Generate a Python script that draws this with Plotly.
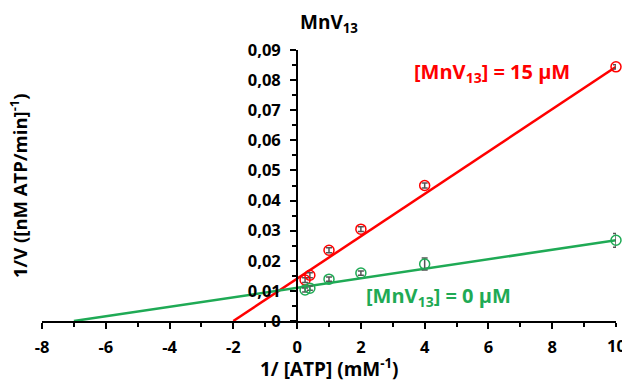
import plotly.graph_objects as go

# Data
atp_inv = [0.25, 0.4, 1, 2, 4, 10]
v_inv_15uM = [0.0136, 0.0152, 0.0235, 0.0305, 0.0450, 0.0844]
err_15uM = [0.0008, 0.0008, 0.0008, 0.0008, 0.0008, 0.0007]
v_inv_0uM = [0.0103, 0.0109, 0.0139, 0.0159, 0.0189, 0.0268]
err_0uM = [0.0007, 0.0007, 0.0007, 0.0007, 0.0020, 0.0023]

fit_x_15uM = [-2, 10]
fit_y_15uM = [0.0, 0.0844]
fit_x_0uM = [-7, 10]
fit_y_0uM = [0.0, 0.0268]

x_tickvals = [-8, -6, -4, -2, 0, 2, 4, 6, 8, 10]
x_ticktext = ["-8", "-6", "-4", "-2", "0", "2", "4", "6", "8", "10"]
y_tickvals = [0, 0.01, 0.02, 0.03, 0.04, 0.05, 0.06, 0.07, 0.08, 0.09]
y_ticktext = ["0", "0,01", "0,02", "0,03", "0,04", "0,05", "0,06", "0,07", "0,08", "0,09"]

RED = "#ff0000"
GREEN = "#1faa55"
ERR = "#555555"
FONT = "Open Sans"
TICKSIZE = 16.5

fig = go.Figure()

fig.add_trace(go.Scatter(x=fit_x_15uM, y=fit_y_15uM, mode="lines",
                         line=dict(color=RED, width=2.5), showlegend=False, hoverinfo="skip"))
fig.add_trace(go.Scatter(x=fit_x_0uM, y=fit_y_0uM, mode="lines",
                         line=dict(color=GREEN, width=2.5), showlegend=False, hoverinfo="skip"))

fig.add_trace(go.Scatter(x=atp_inv, y=v_inv_15uM, mode="markers",
                         marker=dict(symbol="circle-open", size=10, color=RED, line=dict(width=1.5, color=RED)),
                         error_y=dict(type="data", array=err_15uM, color=ERR, thickness=1.5, width=3),
                         cliponaxis=False, showlegend=False))
fig.add_trace(go.Scatter(x=atp_inv, y=v_inv_0uM, mode="markers",
                         marker=dict(symbol="circle-open", size=10, color=GREEN, line=dict(width=1.5, color=GREEN)),
                         error_y=dict(type="data", array=err_0uM, color=ERR, thickness=1.5, width=3),
                         cliponaxis=False, showlegend=False))

fig.update_layout(
    width=622, height=381,
    margin=dict(l=41.5, r=6, t=49.5, b=60),
    plot_bgcolor="white", paper_bgcolor="white",
    font=dict(family=FONT, size=TICKSIZE, color="black", weight="bold"),
    showlegend=False,
    xaxis=dict(range=[-8, 10], domain=[0, 1], anchor="y",
               showline=True, linecolor="black", linewidth=2,
               showgrid=False, zeroline=False,
               ticks="outside", ticklen=6, tickwidth=2, tickcolor="black",
               tickvals=x_tickvals[:-1], ticktext=x_ticktext[:-1],
               ticklabelstandoff=4,
               minor=dict(dtick=1, tick0=0, ticks="outside", ticklen=4, tickwidth=2, tickcolor="black"),
               tickfont=dict(family=FONT, size=TICKSIZE, color="black", weight="bold")),
    yaxis=dict(range=[0, 0.09], anchor="free", position=8 / 18,
               showline=True, linecolor="black", linewidth=2,
               showgrid=False, zeroline=False,
               ticks="outside", ticklen=6, tickwidth=2, tickcolor="black",
               tickvals=y_tickvals, ticktext=y_ticktext,
               ticklabelstandoff=6,
               minor=dict(dtick=0.005, tick0=0, ticks="outside", ticklen=4, tickwidth=2, tickcolor="black"),
               tickfont=dict(family=FONT, size=TICKSIZE, color="black", weight="bold")),
)

# the last x tick label, which sits partly outside the picture
fig.add_annotation(text=x_ticktext[-1], x=x_tickvals[-1], y=0, yanchor="middle",
                   yshift=-24, showarrow=False,
                   font=dict(family=FONT, size=TICKSIZE, color="black", weight="bold"))

fig.add_annotation(text="MnV<sub>13</sub>", xref="paper", yref="paper",
                   x=0.5, y=1, yanchor="middle", yshift=27, showarrow=False,
                   font=dict(family=FONT, size=19, color="black", weight="bold"))
fig.add_annotation(text="1/ [ATP] (mM<sup>-1</sup>)", xref="paper", yref="paper",
                   x=0.5, y=0, yanchor="middle", yshift=-47, showarrow=False,
                   font=dict(family=FONT, size=19, color="black", weight="bold"))
fig.add_annotation(text="1/V ([nM ATP/min]<sup>-1</sup>)", xref="paper", yref="paper",
                   x=0, xanchor="center", xshift=-23.5, y=0.5, textangle=-90, showarrow=False,
                   font=dict(family=FONT, size=18.5, color="black", weight="bold"))
fig.add_annotation(text="[MnV<sub>13</sub>] = 15 µM", x=6.12, y=0.0825, showarrow=False,
                   font=dict(family=FONT, size=20, color=RED, weight="bold"))
fig.add_annotation(text="[MnV<sub>13</sub>] = 0 µM", x=4.43, y=0.0083, showarrow=False,
                   font=dict(family=FONT, size=20, color=GREEN, weight="bold"))

fig.write_html("out.html")
